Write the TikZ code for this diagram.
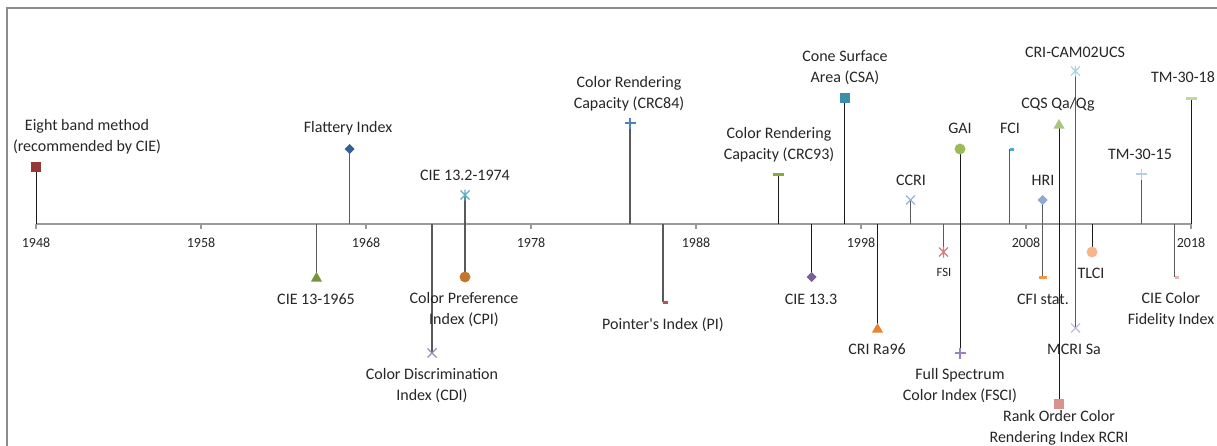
\documentclass[tikz,border=0pt]{standalone}
\usepackage{fontspec}
\setmainfont{Carlito}
\definecolor{txt}{HTML}{262626}
\definecolor{framec}{HTML}{8C8C8C}
\definecolor{axisc}{HTML}{9A9A9A}
\definecolor{stemgray}{HTML}{5A5A5A}
\definecolor{stemblack}{HTML}{1A1A1A}
\definecolor{cEight}{HTML}{953735}
\definecolor{cFlat}{HTML}{376092}
\definecolor{cCIEa}{HTML}{77933C}
\definecolor{cCIEb}{HTML}{5AAFC7}
\definecolor{cCPI}{HTML}{C4742B}
\definecolor{cCDI}{HTML}{9C8AB6}
\definecolor{cCRCa}{HTML}{4F81BD}
\definecolor{cPI}{HTML}{C0504D}
\definecolor{cCRCb}{HTML}{86A846}
\definecolor{cCIEc}{HTML}{7A5F99}
\definecolor{cCSA}{HTML}{3A90A8}
\definecolor{cCCRI}{HTML}{95B3D7}
\definecolor{cFSI}{HTML}{DA7B79}
\definecolor{cGAI}{HTML}{9BBB59}
\definecolor{cFSCI}{HTML}{9A82C0}
\definecolor{cFCI}{HTML}{4BACC6}
\definecolor{cHRI}{HTML}{8EA9D6}
\definecolor{cCFIs}{HTML}{F79646}
\definecolor{cCQS}{HTML}{A9C67E}
\definecolor{cRCRI}{HTML}{D79390}
\definecolor{cCAM}{HTML}{A9D5E3}
\definecolor{cMCRI}{HTML}{C5B9D8}
\definecolor{cTLCI}{HTML}{F9B58A}
\definecolor{cTMa}{HTML}{B9CDE5}
\definecolor{cTMb}{HTML}{C3D69B}
\definecolor{cCFI}{HTML}{E6B9B8}
\definecolor{cRa}{HTML}{E8832F}
\tikzset{
 pics/msq/.style={code={\path[pic actions] (-5,-5) rectangle (5,5);}},
 pics/mci/.style={code={\path[pic actions] (0,0) circle[radius=4.1pt];}},
 pics/mdi/.style={code={\path[pic actions] (0,-5) -- (5,0) -- (0,5) -- (-5,0) -- cycle;}},
 pics/mtr/.style={code={\path[pic actions] (0,-5) -- (5.5,4.5) -- (-5.5,4.5) -- cycle;}},
 pics/mx/.style={code={\path[pic actions] (-4.5,-4.5) -- (4.5,4.5) (-4.5,4.5) -- (4.5,-4.5);}},
 pics/mst/.style={code={\path[pic actions] (-4.5,-4.5) -- (4.5,4.5) (-4.5,4.5) -- (4.5,-4.5) (0,-5.5) -- (0,5.5);}},
 pics/mpl/.style={code={\path[pic actions] (-5.5,0) -- (5.5,0) (0,-5.5) -- (0,5.5);}},
 pics/mda/.style={code={\path[pic actions] (-5.5,-1.5) rectangle (5.5,1.5);}},
 pics/mdm/.style={code={\path[pic actions] (-4,-1.5) rectangle (4,1.5);}},
 pics/mdr/.style={code={\path[pic actions] (0,-1.5) rectangle (4.5,1.5);}},
 lab/.style={font=\fontsize{12}{15.75}\selectfont, text=txt, align=center, inner sep=0pt},
 smalllab/.style={font=\fontsize{9.5}{11}\selectfont, text=txt, inner sep=0pt},
 ticklab/.style={font=\fontsize{10.5}{12}\selectfont, text=txt, inner sep=0pt},
 stemk/.style={draw=stemblack, line width=0.6pt},
 stemg/.style={draw=stemgray, line width=1.1pt},
 axisline/.style={draw=axisc, line width=1pt},
 frameline/.style={draw=framec, line width=1pt},
 linemark/.style={line width=0.85pt},
}
\begin{document}
\begin{tikzpicture}[x=0.75pt,y=-0.75pt]
\useasboundingbox (0,0) rectangle (1217,446);
% frame
\draw[frameline] (7,446) -- (7,8) -- (1217,8);
% axis
\coordinate (axL) at (36,224);
\coordinate (axR) at (1191,224);
\draw[axisline] (axL) -- (axR);
\foreach \yr in {1948,1958,...,2018}{
  \pgfmathsetmacro\xx{36+(\yr-1948)*16.5}
  \coordinate (k\yr) at (\xx,224);
  \draw[axisline] (k\yr) -- ++(0,5);
  \node[ticklab] (t\yr) at (\xx,243) {\yr};
}
% axis anchor points of the events
\coordinate (a48) at (36,224);
\coordinate (a65) at (316.5,224);
\coordinate (a67) at (349.5,224);
\coordinate (a72) at (432,224);
\coordinate (a74) at (465,224);
\coordinate (a84) at (630,224);
\coordinate (a86) at (663,224);
\coordinate (a93) at (778.5,224);
\coordinate (a95) at (811.5,224);
\coordinate (a97) at (844.5,224);
\coordinate (a99) at (877.5,224);
\coordinate (a01) at (910.5,224);
\coordinate (a03) at (943.5,224);
\coordinate (a04) at (960,224);
\coordinate (a07) at (1009.5,224);
\coordinate (a09) at (1042.5,224);
\coordinate (a10) at (1059,224);
\coordinate (a11) at (1075.5,224);
\coordinate (a12) at (1092,224);
\coordinate (a15) at (1141.5,224);
\coordinate (a17) at (1174.5,224);
\coordinate (a18) at (1191,224);
% marker positions (above)
\coordinate (m48) at (36,167);
\coordinate (m67) at (349.5,149);
\coordinate (m74a) at (465,195);
\coordinate (m84) at (630,123);
\coordinate (m93) at (778.5,174);
\coordinate (m97) at (844.5,98);
\coordinate (m01) at (910.5,200);
\coordinate (m04a) at (960,149);
\coordinate (m07) at (1009.5,149);
\coordinate (m09a) at (1042.5,200);
\coordinate (m10a) at (1059,124);
\coordinate (m11a) at (1075.5,71);
\coordinate (m15) at (1141.5,174);
\coordinate (m18) at (1191,98);
% marker positions (below)
\coordinate (m65) at (316.5,277);
\coordinate (m72) at (432,353);
\coordinate (m74b) at (465,277);
\coordinate (m86) at (663,302);
\coordinate (m95) at (811.5,277);
\coordinate (m99) at (877.5,328);
\coordinate (m03) at (943.5,252);
\coordinate (m04b) at (960,353);
\coordinate (m09b) at (1042.5,277);
\coordinate (m10b) at (1059,404);
\coordinate (m11b) at (1075.5,328);
\coordinate (m12) at (1092,252);
\coordinate (m17) at (1174.5,277);
% stems
\draw[stemk] (m48) -- (a48);
\draw[stemg] (m67) -- (a67);
\draw[stemg] (m74a) -- (a74);
\draw[stemg] (m84) -- (a84);
\draw[stemk] (m93) -- (a93);
\draw[stemk] (m97) -- (a97);
\draw[stemg] (m01) -- (a01);
\draw[stemk] (m04a) -- (a04);
\draw[stemg] (m07) -- (a07);
\draw[stemg] (m09a) -- (a09);
\draw[stemk] (m10a) -- (a10);
\draw[stemg] (m11a) -- (a11);
\draw[stemg] (m15) -- (a15);
\draw[stemk] (m18) -- (a18);
\draw[stemg] (m65) -- (a65);
\draw[stemg] (m72) -- (a72);
\draw[stemg] (m74b) -- (a74);
\draw[stemg] (m86) -- (a86);
\draw[stemk] (m95) -- (a95);
\draw[stemk] (m99) -- (a99);
\draw[stemg] (m03) -- (a03);
\draw[stemk] (m04b) -- (a04);
\draw[stemg] (m09b) -- (a09);
\draw[stemk] (m10b) -- (a10);
\draw[stemg] (m11b) -- (a11);
\draw[stemk] (m12) -- (a12);
\draw[stemg] (m17) -- (a17);
% markers (above)
\pic[fill=cEight] at (m48) {msq};
\pic[fill=cFlat] at (m67) {mdi};
\pic[draw=cCIEb, linemark] at (m74a) {mst};
\pic[draw=cCRCa, linemark] at (m84) {mpl};
\pic[fill=cCRCb] at (m93) {mda};
\pic[fill=cCSA] at (m97) {msq};
\pic[draw=cCCRI, linemark] at (m01) {mx};
\pic[fill=cGAI] at (m04a) {mci};
\pic[fill=cFCI] at (m07) {mdr};
\pic[fill=cHRI] at (m09a) {mdi};
\pic[fill=cCQS] at (m10a) {mtr};
\pic[draw=cCAM, linemark] at (m11a) {mst};
\pic[draw=cTMa, linemark] at (m15) {mpl};
\pic[fill=cTMb] at (m18) {mda};
% markers (below)
\pic[fill=cCIEa] at (m65) {mtr};
\pic[draw=cCDI, linemark] at (m72) {mx};
\pic[fill=cCPI] at (m74b) {mci};
\pic[fill=cPI] at (m86) {mdr};
\pic[fill=cCIEc] at (m95) {mdi};
\pic[fill=cRa] at (m99) {mtr};
\pic[draw=cFSI, linemark] at (m03) {mst};
\pic[draw=cFSCI, linemark] at (m04b) {mpl};
\pic[fill=cCFIs] at (m09b) {mdm};
\pic[fill=cRCRI] at (m10b) {msq};
\pic[draw=cMCRI, linemark] at (m11b) {mx};
\pic[fill=cTLCI] at (m12) {mci};
\pic[fill=cCFI] at (m17) {mdr};
% labels
\node[lab] (l48) at (87,136.5) {Eight band method\\(recommended by CIE)};
\node[lab] (l67) at (348,128) {Flattery Index};
\node[lab] (l65) at (316,299) {CIE 13-1965};
\node[lab] (l74a) at (465,175) {CIE 13.2-1974};
\node[lab] (l74b) at (464,309.5) {Color Preference\\Index (CPI)};
\node[lab] (l72) at (432,385.5) {Color Discrimination\\Index (CDI)};
\node[lab] (l84) at (629,93.5) {Color Rendering\\Capacity (CRC84)};
\node[lab] (l86) at (663,325) {Pointer\textquotesingle s Index (PI)};
\node[lab] (l93) at (779,144.5) {Color Rendering\\Capacity (CRC93)};
\node[lab] (l95) at (811,299) {CIE 13.3};
\node[lab] (l97) at (845,67.5) {Cone Surface\\Area (CSA)};
\node[lab] (l99) at (877,349) {CRI Ra96};
\node[lab] (l01) at (911,180) {CCRI};
\node[smalllab] (l03) at (944,272) {FSI};
\node[lab] (l04a) at (960,128) {GAI};
\node[lab] (l04b) at (960,385.5) {Full Spectrum\\Color Index (FSCI)};
\node[lab] (l07) at (1010,128) {FCI};
\node[lab] (l09a) at (1043,180) {HRI};
\node[lab] (l09b) at (1043,299) {CFI stat.};
\node[lab] (l10a) at (1058,104) {CQS Qa/Qg};
\node[lab] (l10b) at (1059,427.5) {Rank Order Color\\Rendering Index RCRI};
\node[lab] (l11a) at (1075,52) {CRI-CAM02UCS};
\node[lab] (l11b) at (1074,349) {MCRI Sa};
\node[lab] (l12) at (1091,273) {TLCI};
\node[lab] (l15) at (1140,154) {TM-30-15};
\node[lab] (l18) at (1183,77) {TM-30-18};
\node[lab] (l17) at (1171,309.5) {CIE Color\\Fidelity Index};
\end{tikzpicture}
\end{document}
